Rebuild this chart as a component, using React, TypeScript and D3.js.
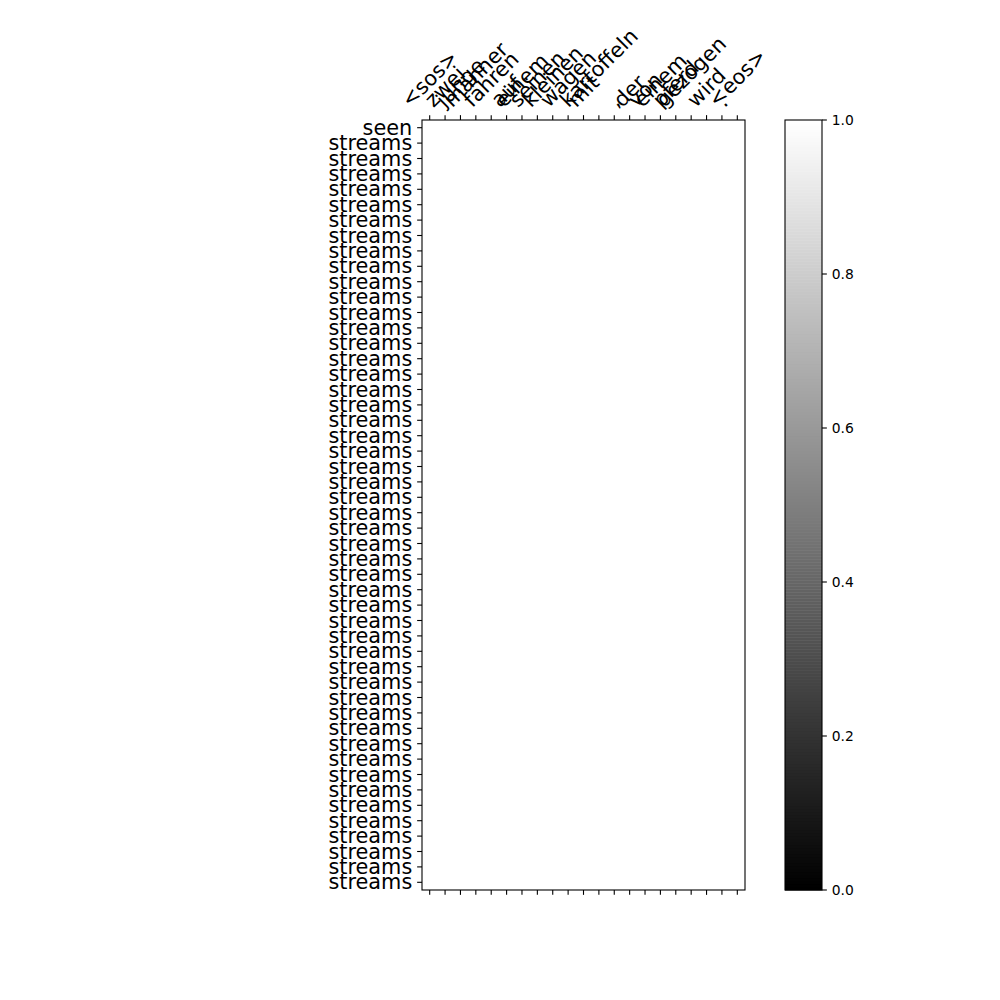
import React from "react";
import * as d3 from "d3";

// Source tokens (columns, top axis)
const xLabels: string[] = [
  "<sos>", "zwei", "junge", "männer", "fahren", "auf", "einem", "seinen",
  "kleinen", "wagen", "mit", "kartoffeln", ",", "der", "von", "einem",
  "pferd", "gezogen", "wird", ".", "<eos>",
];

// Predicted tokens (rows, left axis)
const yLabels: string[] = ["seen", ...Array(49).fill("streams")];

// Every cell of the attention map reads as 1.0 (white) in the picture
const cellValue = 1.0;
const attention: number[][] = yLabels.map(() => xLabels.map(() => cellValue));

// Colorbar ticks
const cbarTicks: number[] = [0, 0.2, 0.4, 0.6, 0.8, 1.0];

const FONT = "DejaVu Sans, sans-serif";
const LABEL_PX = 20.83; // 15pt
const TICK_PX = 13.89; // 10pt

let _ctx: CanvasRenderingContext2D | null = null;
function measure(text: string, px: number): number {
  if (!_ctx) {
    const c = document.createElement("canvas");
    _ctx = c.getContext("2d");
  }
  if (!_ctx) return text.length * px * 0.6;
  _ctx.font = `${px}px "DejaVu Sans"`;
  return _ctx.measureText(text).width;
}

export default function App() {
  const W = 1000, H = 1000;
  const left = 422, right = 745, top = 120, bottom = 890;
  const x = d3.scaleBand<number>().domain(d3.range(xLabels.length)).range([left, right]);
  const y = d3.scaleBand<number>().domain(d3.range(yLabels.length)).range([top, bottom]);
  const color = d3.scaleSequential((t: number) => d3.interpolateRgb("#000000", "#ffffff")(t)).domain([0, 1]);

  const cbL = 785, cbR = 822;
  const cy = d3.scaleLinear().domain([0, 1]).range([bottom, top]);
  const cbSteps = d3.range(0, 256);

  const tickLen = 4.86;
  const pad = 4.86;
  const lineH = LABEL_PX * 1.164;

  return (
    <svg width={W} height={H} style={{ display: "block", position: "absolute", left: 0, top: 0 }} fontFamily={FONT}>
      <rect x={0} y={0} width={W} height={H} fill="#fff" />
      {/* heatmap cells */}
      {attention.map((row, i) =>
        row.map((v, j) => (
          <rect key={`${i}-${j}`} x={x(j)} y={y(i)} width={x.bandwidth() + 0.3} height={y.bandwidth() + 0.3} fill={color(v)} />
        ))
      )}
      <rect x={left} y={top} width={right - left} height={bottom - top} fill="none" stroke="#000" strokeWidth={1.1} />
      {/* x ticks top & bottom */}
      {xLabels.map((_, j) => {
        const cx = (x(j) as number) + x.bandwidth() / 2;
        return (
          <g key={`xt${j}`}>
            <line x1={cx} x2={cx} y1={top} y2={top - tickLen} stroke="#000" strokeWidth={1.1} />
            <line x1={cx} x2={cx} y1={bottom} y2={bottom + tickLen} stroke="#000" strokeWidth={1.1} />
          </g>
        );
      })}
      {/* x labels rotated 45 */}
      {xLabels.map((lab, j) => {
        const cx = (x(j) as number) + x.bandwidth() / 2;
        const w = measure(lab, LABEL_PX);
        const half = (w + lineH) / (2 * Math.SQRT2);
        const py = top - tickLen - pad - half + 1.5;
        return (
          <text key={`xl${j}`} x={0} y={0} transform={`translate(${cx},${py}) rotate(-45)`} textAnchor="middle" dominantBaseline="central" fontSize={LABEL_PX} fill="#000">
            {lab}
          </text>
        );
      })}
      {/* y ticks and labels */}
      {yLabels.map((lab, i) => {
        const cyy = (y(i) as number) + y.bandwidth() / 2;
        return (
          <g key={`yl${i}`}>
            <line x1={left} x2={left - tickLen} y1={cyy} y2={cyy} stroke="#000" strokeWidth={1.1} />
            <text x={left - tickLen - pad} y={cyy} textAnchor="end" dominantBaseline="central" fontSize={LABEL_PX} fill="#000">
              {lab}
            </text>
          </g>
        );
      })}
      {/* colorbar */}
      {cbSteps.map((s) => {
        const v0 = s / 256, v1 = (s + 1) / 256;
        return <rect key={`cb${s}`} x={cbL} y={cy(v1)} width={cbR - cbL} height={cy(v0) - cy(v1) + 0.5} fill={color((v0 + v1) / 2)} />;
      })}
      <rect x={cbL} y={top} width={cbR - cbL} height={bottom - top} fill="none" stroke="#000" strokeWidth={1.1} />
      {cbarTicks.map((t) => (
        <g key={`ct${t}`}>
          <line x1={cbR} x2={cbR + tickLen} y1={cy(t)} y2={cy(t)} stroke="#000" strokeWidth={1.1} />
          <text x={cbR + tickLen + pad} y={cy(t)} dominantBaseline="central" fontSize={TICK_PX} fill="#000">
            {t.toFixed(1)}
          </text>
        </g>
      ))}
    </svg>
  );
}
